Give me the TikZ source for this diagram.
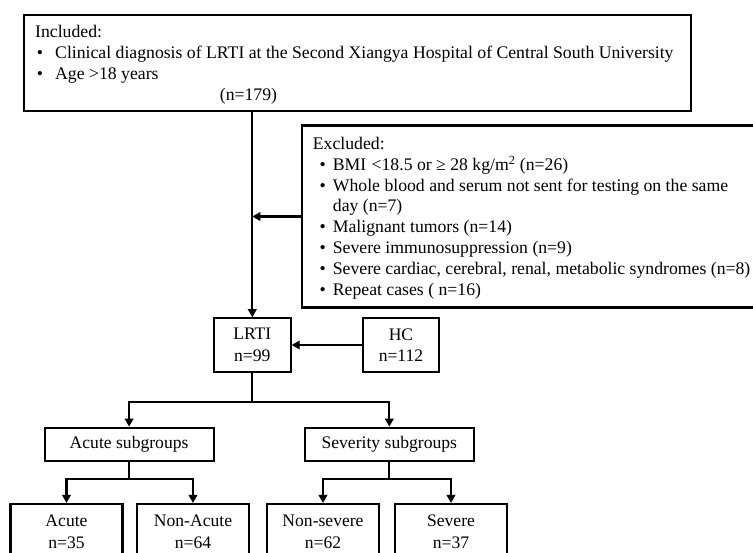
\documentclass[tikz,border=0pt]{standalone}
\usepackage{fontspec}
\setmainfont{Liberation Serif}
\usetikzlibrary{arrows.meta}
\begin{document}
\begin{tikzpicture}[x=1pt,y=-1pt,
  box/.style={draw,line width=2.1pt,inner sep=0pt,font=\fontsize{17.6}{21.6}\selectfont,align=center},
  conn/.style={line width=2.1pt},
  arr/.style={line width=2.1pt,-{Triangle[length=8pt,width=8.5pt]}},
  txt/.style={font=\fontsize{17.7}{21}\selectfont,inner sep=0pt,anchor=base west},
  bul/.style={font=\fontsize{17.7}{21}\selectfont,inner sep=0pt,anchor=base}
]
\clip (0,0) rectangle (753,553);
\fill[white] (0,0) rectangle (753,553);
% boxes
\node[box,minimum width=666.7pt,minimum height=96pt] (inc) at (357.35,63) {};
\node[box,minimum width=478pt,minimum height=182pt] (exc) at (541,216.5) {};
\node[box,minimum width=76.7pt,minimum height=53.4pt] (lrti) at (252.3,345) {LRTI\\n=99};
\node[box,minimum width=76.6pt,minimum height=53.4pt] (hc) at (401,345) {HC\\n=112};
\node[box,minimum width=169pt,minimum height=33pt] (acs) at (129.1,444.2) {Acute subgroups};
\node[box,minimum width=169pt,minimum height=33pt] (svs) at (389.3,444.2) {Severity subgroups};
\node[box,minimum width=112pt,minimum height=55.4pt] (acute) at (66.5,531.7) {Acute\\n=35};
\node[box,minimum width=112pt,minimum height=55.4pt] (nonacute) at (193,531.7) {Non-Acute\\n=64};
\node[box,minimum width=112pt,minimum height=55.4pt] (nonsevere) at (323,531.7) {Non-severe\\n=62};
\node[box,minimum width=112pt,minimum height=55.4pt] (severe) at (451,531.7) {Severe\\n=37};
% included text
\node[txt] (i0) at (35,38) {Included:};
\node[bul] (ib1) at (40,59) {•};
\node[txt] (i1) at (55,59) {Clinical diagnosis of LRTI at the Second Xiangya Hospital of Central South University};
\node[bul] (ib2) at (40,80) {•};
\node[txt] (i2) at (55,80) {Age >18 years};
\node[bul] (i3) at (248.5,101) {(n=179)};
% excluded text
\node[txt] (e0) at (312.7,149.5) {Excluded:};
\node[bul] (eb1) at (322.7,170.3) {•};
\node[txt] (e1) at (332.7,170.3) {BMI\hspace{0.3em}<18.5 or ≥ 28 kg/m\textsuperscript{2}\ (n=26)};
\node[bul] (eb2) at (322.7,191.1) {•};
\node[txt] (e2) at (332.7,191.1) {Whole blood and serum not sent for testing on the same};
\node[txt] (e2b) at (332.7,211.9) {day (n=7)};
\node[bul] (eb3) at (322.7,232.7) {•};
\node[txt] (e3) at (332.7,232.7) {Malignant tumors (n=14)};
\node[bul] (eb4) at (322.7,253.5) {•};
\node[txt] (e4) at (332.7,253.5) {Severe immunosuppression (n=9)};
\node[bul] (eb5) at (322.7,274.3) {•};
\node[txt] (e5) at (332.7,274.3) {Severe cardiac, cerebral, renal, metabolic syndromes (n=8)};
\node[bul] (eb6) at (322.7,295.1) {•};
\node[txt] (e6) at (332.7,295.1) {Repeat cases ( n=16)};
% connectors
\draw[arr] (inc.south -| lrti.north) -- (lrti.north);
\draw[arr] (exc.west) -- (exc.west -| lrti.north);
\draw[arr] (hc.west) -- (lrti.east);
\coordinate (b1) at (252.3,401.7);
\draw[conn] (lrti.south) -- (b1);
\draw[arr] (b1) -| (acs.north);
\draw[arr] (b1) -| (svs.north);
\coordinate (b2) at (129.1,479);
\draw[conn] (acs.south) -- (b2);
\draw[arr] (b2) -| (acute.north);
\draw[arr] (b2) -| (nonacute.north);
\coordinate (b3) at (389.3,479);
\draw[conn] (svs.south) -- (b3);
\draw[arr] (b3) -| (nonsevere.north);
\draw[arr] (b3) -| (severe.north);
\end{tikzpicture}
\end{document}
